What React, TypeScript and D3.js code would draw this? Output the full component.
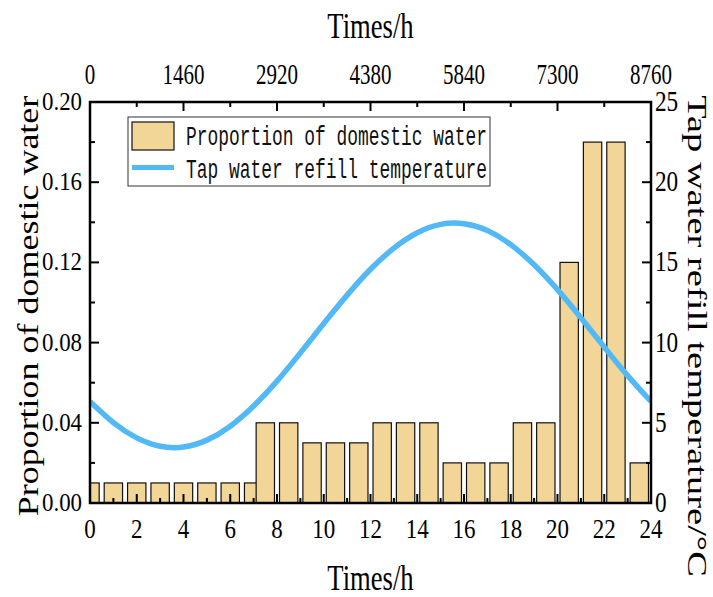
import React from "react";
import * as d3 from "d3";

const barHours = [0, 1, 2, 3, 4, 5, 6, 7, 7.5, 8.5, 9.5, 10.5, 11.5, 12.5, 13.5, 14.5, 15.5, 16.5, 17.5, 18.5, 19.5, 20.5, 21.5, 22.5, 23.5];
const barValues = [0.01, 0.01, 0.01, 0.01, 0.01, 0.01, 0.01, 0.01, 0.04, 0.04, 0.03, 0.03, 0.03, 0.04, 0.04, 0.04, 0.02, 0.02, 0.02, 0.04, 0.04, 0.12, 0.18, 0.18, 0.02];
const tempHours = [0, 1, 2, 3, 4, 5, 6, 7, 8, 9, 10, 11, 12, 13, 14, 15, 16, 17, 18, 19, 20, 21, 22, 23, 24];
const tempValues = [6.33, 5.01, 4.06, 3.54, 3.49, 3.92, 4.79, 6.05, 7.6, 9.36, 11.19, 12.96, 14.57, 15.89, 16.85, 17.37, 17.41, 16.99, 16.11, 14.85, 13.3, 11.55, 9.72, 7.94, 6.33];
const bottomTicks = [0, 2, 4, 6, 8, 10, 12, 14, 16, 18, 20, 22, 24];
const topTicks = [0, 1460, 2920, 4380, 5840, 7300, 8760];
const leftTicks = [0, 0.04, 0.08, 0.12, 0.16, 0.2];
const rightTicks = [0, 5, 10, 15, 20, 25];

const W = 713, H = 597;
const L = 90, R = 651, T = 102, B = 503;
const BAR_FILL = "#F2D697";
const LINE_COLOR = "#52B9F6";
const SERIF = "'Liberation Serif', 'Times New Roman', serif";
const MONO = "'Liberation Mono', 'DejaVu Sans Mono', monospace";

export default function App() {
  const x = d3.scaleLinear().domain([0, 24]).range([L, R]);
  const xTop = d3.scaleLinear().domain([0, 8760]).range([L, R]);
  const y = d3.scaleLinear().domain([0, 0.2]).range([B, T]);
  const yR = d3.scaleLinear().domain([0, 25]).range([B, T]);
  const bw = x(0.785) - x(0);

  const line = d3
    .line<number>()
    .x((_, i) => x(tempHours[i]))
    .y((d) => yR(d))
    .curve(d3.curveNatural);

  const minorBottom = d3.range(1, 24, 2);
  const minorTop = d3.range(730, 8760, 1460);
  const minorLeft = [0.02, 0.06, 0.1, 0.14, 0.18];
  const minorRight = [2.5, 7.5, 12.5, 17.5, 22.5];
  const MAJ = 9, MIN = 5;

  return (
    <svg width={W} height={H} style={{ position: "absolute", left: 0, top: 0, background: "#fff" }}>
      <defs>
        <clipPath id="plot">
          <rect x={L} y={T} width={R - L} height={B - T} />
        </clipPath>
      </defs>
      <rect width={W} height={H} fill="#fff" />
      <g clipPath="url(#plot)">
        {barHours.map((h, i) => (
          <rect
            key={i}
            x={x(h) - bw / 2}
            y={y(barValues[i])}
            width={bw}
            height={y(0) - y(barValues[i])}
            fill={BAR_FILL}
            stroke="#111"
            strokeWidth={1.2}
          />
        ))}
        <path d={line(tempValues) || ""} fill="none" stroke={LINE_COLOR} strokeWidth={5.5} />
      </g>

      {/* ticks */}
      <g stroke="#000" strokeWidth={2}>
        {bottomTicks.map((t) => (
          <line key={"b" + t} x1={x(t)} x2={x(t)} y1={B} y2={B - MAJ} />
        ))}
        {minorBottom.map((t) => (
          <line key={"bm" + t} x1={x(t)} x2={x(t)} y1={B} y2={B - MIN} />
        ))}
        {topTicks.map((t) => (
          <line key={"t" + t} x1={xTop(t)} x2={xTop(t)} y1={T} y2={T + MAJ} />
        ))}
        {minorTop.map((t) => (
          <line key={"tm" + t} x1={xTop(t)} x2={xTop(t)} y1={T} y2={T + MIN} />
        ))}
        {leftTicks.map((t) => (
          <line key={"l" + t} x1={L} x2={L + MAJ} y1={y(t)} y2={y(t)} />
        ))}
        {minorLeft.map((t) => (
          <line key={"lm" + t} x1={L} x2={L + MIN} y1={y(t)} y2={y(t)} />
        ))}
        {rightTicks.map((t) => (
          <line key={"r" + t} x1={R} x2={R - MAJ} y1={yR(t)} y2={yR(t)} />
        ))}
        {minorRight.map((t) => (
          <line key={"rm" + t} x1={R} x2={R - MIN} y1={yR(t)} y2={yR(t)} />
        ))}
      </g>
      <rect x={L} y={T} width={R - L} height={B - T} fill="none" stroke="#000" strokeWidth={2.5} />

      {/* tick labels */}
      <g fontFamily={SERIF} fill="#000">
        {bottomTicks.map((t) => (
          <text key={"bl" + t} transform={`translate(${x(t)},${538}) scale(0.82,1)`} textAnchor="middle" fontSize={28}>
            {t}
          </text>
        ))}
        {topTicks.map((t) => (
          <text key={"tl" + t} transform={`translate(${xTop(t)},${84}) scale(0.7,1)`} textAnchor="middle" fontSize={30}>
            {t}
          </text>
        ))}
        {leftTicks.map((t) => (
          <text key={"ll" + t} transform={`translate(${82},${y(t) + 8}) scale(0.88,1)`} textAnchor="end" fontSize={26}>
            {d3.format(".2f")(t)}
          </text>
        ))}
        {rightTicks.map((t) => (
          <text key={"rl" + t} transform={`translate(${655},${yR(t) + 9}) scale(0.8,1)`} textAnchor="start" fontSize={29}>
            {t}
          </text>
        ))}
      </g>

      {/* axis titles */}
      <g fontFamily={SERIF} fill="#000">
        <text transform={`translate(${(L + R) / 2},${38}) scale(0.74,1)`} textAnchor="middle" fontSize={36}>
          Times/h
        </text>
        <text transform={`translate(${(L + R) / 2},${590}) scale(0.74,1)`} textAnchor="middle" fontSize={36}>
          Times/h
        </text>
        <text transform={`translate(${38},${306}) rotate(-90) scale(1,0.8)`} textAnchor="middle" fontSize={36}>
          Proportion of domestic water
        </text>
        <text transform={`translate(${688},${336}) rotate(90) scale(1,0.72)`} textAnchor="middle" fontSize={38.5}>
          Tap water refill temperature/°C
        </text>
      </g>

      {/* legend */}
      <g>
        <rect x={128} y={117} width={362} height={69} fill="#fff" stroke="#333" strokeWidth={1} />
        <rect x={132} y={122} width={42} height={28} fill={BAR_FILL} stroke="#111" strokeWidth={1.2} />
        <line x1={132} x2={174} y1={167.5} y2={167.5} stroke={LINE_COLOR} strokeWidth={5} />
        <text transform={`translate(186,145) scale(0.64,1)`} fontFamily={MONO} fontSize={28} fill="#111">
          Proportion of domestic water
        </text>
        <text transform={`translate(186,178) scale(0.64,1)`} fontFamily={MONO} fontSize={28} fill="#111">
          Tap water refill temperature
        </text>
      </g>
    </svg>
  );
}
